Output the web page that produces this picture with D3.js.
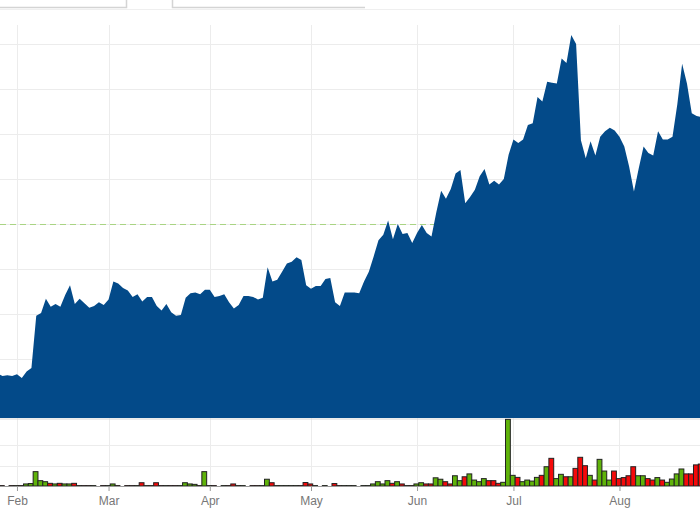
<!DOCTYPE html>
<html>
<head>
<meta charset="utf-8">
<script src="https://cdn.jsdelivr.net/npm/d3@7"></script>
<style>
  body { margin: 0; background: #fff; }
  svg { display: block; font-family: "Liberation Sans", Arial, sans-serif; }
</style>
</head>
<body>
<div id="chart"></div>
<script>
// Chart dimensions
const width = 700;
const height = 525;

// Price panel and volume panel (pixel bounds)
const priceTop = 25;
const priceBottom = 418;
const volTop = 420;
const volBottom = 486;

// Month ticks (trading-day index of first session of each month)
const monthTicks = [4, 23, 44, 65, 87, 107, 129];
const monthLabels = ['Feb', 'Mar', 'Apr', 'May', 'Jun', 'Jul', 'Aug'];

// Daily closing prices, one per trading day
const closePrices = [
    23.4, 23.1, 23.2, 23.1, 23.3, 22.9, 23.6, 24.0, 29.8, 30.1,
    31.7, 30.8, 31.1, 30.8, 32.1, 33.2, 31.1, 31.7, 31.2, 30.7,
    30.9, 31.3, 31.0, 31.6, 33.6, 33.4, 32.9, 32.6, 31.9, 32.2,
    31.4, 31.9, 31.9, 30.9, 30.4, 31.1, 30.2, 29.8, 29.9, 31.8,
    32.3, 32.4, 32.2, 32.7, 32.7, 31.9, 32.0, 32.2, 31.3, 30.6,
    31.0, 32.0, 32.0, 31.9, 31.6, 31.8, 35.2, 33.6, 33.8, 34.7,
    35.6, 35.8, 36.3, 36.0, 33.2, 32.8, 33.1, 33.1, 33.9, 34.0,
    31.3, 30.9, 32.4, 32.4, 32.4, 32.3, 33.6, 34.7, 36.4, 38.2,
    38.8, 40.4, 38.3, 40.0, 38.9, 39.0, 37.9, 39.0, 39.9, 39.0,
    38.6, 41.3, 43.7, 42.8, 43.9, 45.6, 46.0, 42.3, 43.0, 43.8,
    45.3, 46.1, 44.4, 44.8, 44.4, 45.0, 47.7, 49.4, 49.0, 49.4,
    51.0, 51.2, 54.1, 53.6, 55.8, 55.7, 55.6, 58.4, 57.9, 61.0,
    60.0, 49.3, 47.3, 49.2, 47.6, 49.7, 50.3, 50.7, 50.4, 49.7,
    48.6, 46.4, 43.6, 46.2, 48.6, 47.9, 47.6, 50.3, 49.4, 49.4,
    49.7, 53.3, 57.8, 55.6, 52.3, 52.0, 51.9
];

// Daily volume (millions)
const volumes = [
    0.02, 0.02, 0, 0.02, 0.02, 0.02, 0.1, 0.12, 0.7, 0.26,
    0.21, 0.13, 0.1, 0.13, 0.1, 0.1, 0.13, 0.02, 0.02, 0.02,
    0.02, 0, 0.02, 0.02, 0.1, 0.02, 0, 0.02, 0.02, 0.02,
    0.16, 0.02, 0.02, 0.16, 0.02, 0.02, 0.02, 0.02, 0.02, 0.16,
    0.1, 0.08, 0.02, 0.7, 0.02, 0.02, 0, 0.02, 0.02, 0.1,
    0.02, 0.02, 0, 0.02, 0.02, 0.02, 0.33, 0.16, 0.02, 0.02,
    0.02, 0.02, 0.02, 0.02, 0.17, 0.1, 0.02, 0, 0.02, 0,
    0.12, 0.02, 0.02, 0.02, 0.02, 0, 0.02, 0.02, 0.1, 0.21,
    0.1, 0.26, 0.13, 0.21, 0.1, 0.02, 0.02, 0.1, 0.16, 0.1,
    0.1, 0.4, 0.33, 0.21, 0.1, 0.5, 0.26, 0.45, 0.59, 0.29,
    0.21, 0.36, 0.26, 0.26, 0.13, 0.18, 3.25, 0.52, 0.42, 0.21,
    0.29, 0.24, 0.42, 0.52, 0.94, 1.35, 0.36, 0.57, 0.45, 0.45,
    0.86, 1.4, 0.99, 0.52, 0.29, 1.3, 0.73, 0.29, 0.73, 0.36,
    0.41, 0.5, 0.94, 0.5, 0.5, 0.36, 0.29, 0.41, 0.29, 0.18,
    0.34, 0.59, 0.83, 0.59, 0.59, 1.03, 1.07
];

// 1 = up day (green bar), 0 = down day (red bar)
const upDays = [
    1, 0, 1, 0, 1, 0, 1, 1, 1, 1,
    1, 0, 1, 0, 1, 1, 0, 1, 0, 0,
    1, 1, 0, 1, 1, 0, 0, 0, 0, 1,
    0, 1, 1, 0, 0, 1, 0, 0, 1, 1,
    1, 1, 0, 1, 1, 0, 1, 1, 0, 0,
    1, 1, 1, 0, 0, 1, 1, 0, 1, 1,
    1, 1, 1, 0, 0, 0, 1, 1, 1, 1,
    0, 0, 1, 1, 1, 0, 1, 1, 1, 1,
    1, 1, 0, 1, 0, 1, 0, 1, 1, 0,
    0, 1, 1, 0, 0, 1, 1, 0, 1, 1,
    1, 1, 0, 0, 0, 1, 1, 1, 0, 1,
    1, 1, 1, 0, 1, 0, 1, 1, 0, 1,
    0, 0, 0, 1, 0, 1, 1, 1, 0, 0,
    0, 0, 0, 1, 1, 0, 0, 1, 0, 1,
    1, 1, 1, 0, 0, 0, 0
];

// Previous close reference line
const previousClose = 40;

// Price gridlines and volume gridlines
const priceGrid = [25, 30, 35, 40, 45, 50, 55, 60];
const volumeGrid = [1, 2];

const data = closePrices.map((p, i) => ({
    i: i,
    price: p,
    volume: volumes[i],
    up: upDays[i] === 1
}));

// Scales
const xScale = d3.scaleLinear()
    .domain([0, closePrices.length - 1])
    .range([-2.3, -2.3 + 4.82 * (closePrices.length - 1)]);

const yScale = d3.scaleLinear()
    .domain([20, 60])
    .range([404, 44]);

const vScale = d3.scaleLinear()
    .domain([0, 3])
    .range([volBottom, volBottom - 61.5]);

const step = xScale(1) - xScale(0);

const svg = d3.select('#chart')
    .append('svg')
    .attr('width', width)
    .attr('height', height);

// Tab strip at the very top
const tabs = svg.append('g').attr('fill', 'none');
tabs.append('line')
    .attr('x1', 0).attr('x2', width)
    .attr('y1', 9.5).attr('y2', 9.5)
    .attr('stroke', '#efefef');
tabs.append('path')
    .attr('d', 'M0,7.5H126.5V0M172.5,0V7.5H365')
    .attr('stroke', '#d4d4d4')
    .attr('stroke-width', 1.5);

// Price gridlines
svg.append('g')
    .selectAll('line')
    .data(priceGrid)
    .enter()
    .append('line')
    .attr('x1', 0)
    .attr('x2', width)
    .attr('y1', d => yScale(d) + 0.5)
    .attr('y2', d => yScale(d) + 0.5)
    .attr('stroke', '#ececec');

// Vertical month gridlines in both panels
svg.append('g')
    .selectAll('line')
    .data(monthTicks)
    .enter()
    .append('line')
    .attr('x1', d => Math.round(xScale(d)) + 0.5)
    .attr('x2', d => Math.round(xScale(d)) + 0.5)
    .attr('y1', priceTop)
    .attr('y2', volBottom)
    .attr('stroke', '#ececec');

// Volume gridlines
svg.append('g')
    .selectAll('line')
    .data(volumeGrid)
    .enter()
    .append('line')
    .attr('x1', 0)
    .attr('x2', width)
    .attr('y1', d => Math.round(vScale(d)) + 0.5)
    .attr('y2', d => Math.round(vScale(d)) + 0.5)
    .attr('stroke', '#ececec');

// Previous close dashed line (behind the area)
svg.append('line')
    .attr('x1', 0)
    .attr('x2', width)
    .attr('y1', yScale(previousClose) + 0.5)
    .attr('y2', yScale(previousClose) + 0.5)
    .attr('stroke', '#a9d483')
    .attr('stroke-width', 1.2)
    .attr('stroke-dasharray', '6,4');

// Price area
const area = d3.area()
    .x(d => xScale(d.i))
    .y0(priceBottom)
    .y1(d => yScale(d.price));

svg.append('path')
    .datum(data)
    .attr('d', area)
    .attr('fill', '#034a89');

// Separator under price panel
svg.append('line')
    .attr('x1', 0)
    .attr('x2', width)
    .attr('y1', priceBottom + 1)
    .attr('y2', priceBottom + 1)
    .attr('stroke', '#d8d8d8');

// Volume bars
svg.append('g')
    .selectAll('rect')
    .data(data.filter(d => d.volume > 0))
    .enter()
    .append('rect')
    .attr('x', d => xScale(d.i) - 0.7 - step / 2)
    .attr('y', d => vScale(d.volume))
    .attr('width', step)
    .attr('height', d => volBottom - vScale(d.volume))
    .attr('fill', d => d.up ? '#5fb30a' : '#f50a0a')
    .attr('stroke', '#222')
    .attr('stroke-width', 1);

// X axis
const xAxis = d3.axisBottom(xScale)
    .tickValues(monthTicks)
    .tickFormat((d, i) => monthLabels[i])
    .tickSize(5)
    .tickPadding(5);

const gx = svg.append('g')
    .attr('transform', `translate(0, ${volBottom})`)
    .call(xAxis);

gx.select('.domain')
    .attr('d', `M0,0.5H${width}`)
    .attr('stroke', '#9a9a9a');

gx.selectAll('.tick line')
    .attr('stroke', '#9a9a9a');

gx.selectAll('.tick text')
    .attr('fill', '#777')
    .attr('font-size', '12px')
    .attr('font-family', '"Liberation Sans", Arial, sans-serif');
</script>
</body>
</html>
